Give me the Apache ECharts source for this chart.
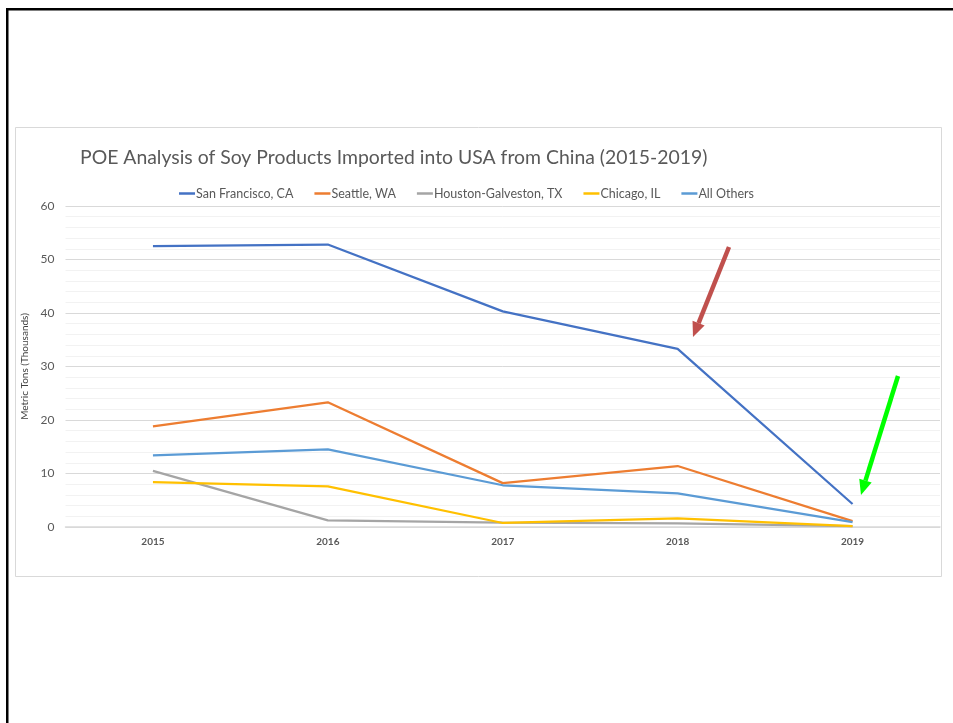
<!DOCTYPE html>
<html>
<head>
<meta charset="utf-8">
<script src="https://cdn.jsdelivr.net/npm/echarts@6/dist/echarts.min.js"></script>
<style>
  html, body { margin: 0; padding: 0; background: #fff; }
  #chart { width: 953px; height: 723px; }
</style>
</head>
<body>
<div id="chart"></div>
<script>
// Years on the x axis
const years = ['2015', '2016', '2017', '2018', '2019'];

// Imports by port of entry, metric tons (thousands)
const sanFrancisco = [52.5, 52.8, 40.3, 33.3, 4.3];
const seattle      = [18.8, 23.3, 8.2, 11.4, 1.1];
const houston      = [10.5, 1.25, 0.8, 0.7, 0.15];
const chicago      = [8.4, 7.6, 0.75, 1.6, 0.15];
const allOthers    = [13.4, 14.5, 7.8, 6.3, 0.9];

const seriesNames = ['San Francisco, CA', 'Seattle, WA', 'Houston-Galveston, TX', 'Chicago, IL', 'All Others'];
const seriesValues = [sanFrancisco, seattle, houston, chicago, allOthers];
const seriesColors = ['#4472c4', '#ed7d31', '#a5a5a5', '#ffc000', '#5b9bd5'];

const FONT = 'Lato, "Open Sans", sans-serif';

const chart = echarts.init(document.getElementById('chart'), null, { renderer: 'canvas' });

function arrow(x1, y1, x2, y2, color) {
  const ang = Math.atan2(y2 - y1, x2 - x1);
  const headLen = 15, headW = 6.5;
  const bx = x2 - headLen * Math.cos(ang), by = y2 - headLen * Math.sin(ang);
  const px = -Math.sin(ang) * headW, py = Math.cos(ang) * headW;
  return [
    { type: 'line', z: 100, shape: { x1: x1, y1: y1, x2: bx, y2: by },
      style: { stroke: color, lineWidth: 4.5 } },
    { type: 'polygon', z: 100, shape: { points: [[x2, y2], [bx + px, by + py], [bx - px, by - py]] },
      style: { fill: color } }
  ];
}

chart.setOption({
  animation: false,
  backgroundColor: '#ffffff',
  title: {
    text: 'POE Analysis of Soy Products Imported into USA from China (2015-2019)',
    left: 75, top: 143,
    textStyle: { fontFamily: FONT, fontSize: 19.4, fontWeight: 'normal', color: '#595959' }
  },
  legend: {
    top: 182, left: 174,
    itemGap: 21, itemWidth: 16, itemHeight: 2.5, icon: 'rect',
    textStyle: { fontFamily: FONT, fontSize: 12.5, color: '#595959', padding: [0, 0, 0, -4] },
    data: seriesNames
  },
  grid: { left: 65.5, right: 13, top: 206, bottom: 196, containLabel: false },
  xAxis: {
    type: 'category',
    data: years,
    boundaryGap: true,
    axisLine: { show: true, lineStyle: { color: '#d9d9d9', width: 1.5 } },
    axisTick: { show: false },
    axisLabel: { fontFamily: FONT, fontSize: 10, fontWeight: 'bold', color: '#595959', margin: 10 },
    splitLine: { show: false }
  },
  yAxis: {
    type: 'value',
    min: 0, max: 60, interval: 10,
    name: 'Metric Tons (Thousands)',
    nameLocation: 'middle', nameGap: 36, nameRotate: 90,
    nameTextStyle: { fontFamily: FONT, fontSize: 10, color: '#404040' },
    axisLine: { show: false },
    axisTick: { show: false },
    axisLabel: { fontFamily: FONT, fontSize: 12, color: '#595959', margin: 11 },
    splitLine: { show: true, lineStyle: { color: '#d9d9d9', width: 1 } },
    minorTick: { show: false, splitNumber: 5 },
    minorSplitLine: { show: true, lineStyle: { color: '#f2f2f2', width: 1 } }
  },
  series: seriesNames.map((name, i) => ({
    name: name,
    type: 'line',
    data: seriesValues[i],
    symbol: 'none',
    color: seriesColors[i],
    lineStyle: { width: 2.25, color: seriesColors[i] },
    z: 3 + i
  })),
  graphic: [
    // slide frame (top and left edges)
    { type: 'rect', shape: { x: 6, y: 8, width: 947, height: 2.5 }, style: { fill: '#000' } },
    { type: 'rect', shape: { x: 6, y: 8, width: 2.5, height: 715 }, style: { fill: '#000' } },
    // chart area border
    { type: 'rect', shape: { x: 15.5, y: 127.5, width: 926, height: 449 },
      style: { fill: 'none', stroke: '#d9d9d9', lineWidth: 1 } }
  ]
    .concat(arrow(729, 247, 693, 337, '#c0504d'))
    .concat(arrow(898, 376, 861, 495, '#00ff00'))
});
</script>
</body>
</html>
